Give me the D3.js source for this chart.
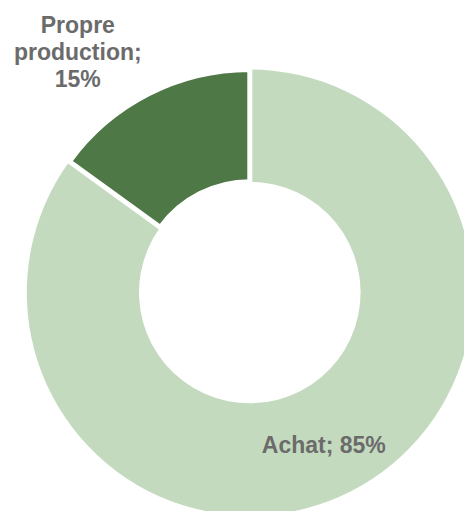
<!DOCTYPE html>
<html>
<head>
<meta charset="utf-8">
<script src="https://cdn.jsdelivr.net/npm/d3@7"></script>
<style>
  html, body { margin: 0; padding: 0; background: #ffffff; }
  svg { display: block; }
  text { font-family: "Liberation Sans", Arial, sans-serif; font-weight: bold; fill: #6b6b6b; }
</style>
</head>
<body>
<svg id="chart" width="464" height="511"></svg>
<script>
// Répartition de l'approvisionnement
const categories = ["Achat", "Propre production"];
const values = [85, 15];
const colors = ["#c3dabe", "#4e7845"];

const width = 464, height = 511;
const cx = 249.8, cy = 292.5;
const outerR = 223, innerR = 110.8;

const svg = d3.select("#chart");
const g = svg.append("g").attr("transform", `translate(${cx},${cy})`);

const pie = d3.pie().sort(null).value(d => d.value);
const arcs = pie(categories.map((c, i) => ({ name: c, value: values[i] })));

const arc = d3.arc().innerRadius(innerR).outerRadius(outerR);

// The smaller slice carries a white border that separates it from the larger one
g.selectAll("path.slice")
  .data(arcs)
  .join("path")
  .attr("class", "slice")
  .attr("d", arc)
  .attr("fill", (d, i) => colors[i])
  .attr("stroke", (d, i) => i === 1 ? "#ffffff" : "none")
  .attr("stroke-width", 5)
  .attr("stroke-linejoin", "miter");

// Étiquettes : catégorie ; pourcentage
const fontSize = 23;
const lineH = 27;
const labelSpecs = [
  { lines: [`${categories[0]}; ${values[0]}%`], x: 74, y: 160 },
  { lines: ["Propre", "production;", `${values[1]}%`], x: -172, y: -259.5 }
];

labelSpecs.forEach(spec => {
  const t = g.append("text")
    .attr("text-anchor", "middle")
    .attr("font-size", fontSize);
  spec.lines.forEach((ln, i) => {
    t.append("tspan")
      .attr("x", spec.x)
      .attr("y", spec.y + i * lineH)
      .text(ln);
  });
});
</script>
</body>
</html>
